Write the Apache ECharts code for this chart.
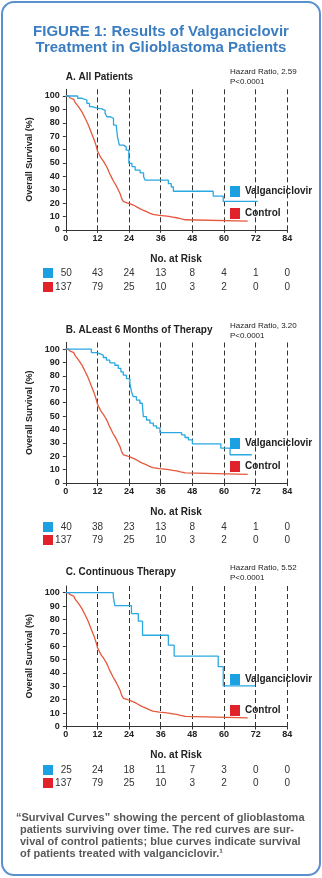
<!DOCTYPE html>
<html>
<head>
<meta charset="utf-8">
<script src="https://cdn.jsdelivr.net/npm/echarts@6/dist/echarts.min.js"></script>
<style>
  html, body { margin: 0; padding: 0; background: #fff; }
  #chart { width: 322px; height: 878px; }
</style>
</head>
<body>
<div id="chart"></div>
<script>
// Axis ticks
const monthTicks = [0, 12, 24, 36, 48, 60, 72, 84];
const survivalTicks = [0, 10, 20, 30, 40, 50, 60, 70, 80, 90, 100];

// Kaplan-Meier curves: event month and survival (%) after that event
const controlMonths = [0, 1.0, 1.7, 2.4, 3.0, 3.6, 4.2, 4.8, 5.3, 5.8, 6.3, 6.8, 7.3, 7.8, 8.3, 8.8, 9.3, 9.8, 10.3, 10.8,
  11.3, 11.7, 12.0, 12.5, 13.0, 13.6, 14.2, 14.8, 15.4, 15.9, 16.4, 16.9, 17.4, 17.9, 18.5, 19.1, 19.6, 20.1, 20.6, 21.0,
  21.4, 21.9, 22.6, 23.5, 24.5, 25.4, 26.3, 27.2, 28.1, 29.0, 30.0, 31.0, 32.0, 33.0, 35.5, 37.5, 39.0, 40.5, 42.0, 43.5,
  45.3, 69.0];
const controlSurvival = [100, 99.3, 98.5, 97.5, 96.5, 95, 93.5, 92, 90.5, 89, 87.5, 85.5, 83.5, 81.5, 79.5, 77, 74.5, 72, 69.5, 67,
  64, 61.5, 59, 57, 55, 53, 51.5, 49.5, 47.5, 45.5, 43, 41, 39, 37, 35, 33, 31, 29, 27, 24.5,
  22.5, 21, 20, 19.3, 18.6, 17.8, 16.8, 15.8, 14.9, 14.1, 13.2, 12.3, 11.5, 10.8, 10.4, 10, 9.5, 9.0, 8.3, 7.5,
  6.5, 6.5];

const allPatientsMonths = [0, 4.5, 6.1, 8.0, 9.0, 10.0, 11.8, 13.7, 14.9, 15.6, 16.9, 18.1, 19.1, 19.6, 20.3, 21.9, 22.9, 23.9,
  25.1, 26.3, 28.2, 29.5, 30.1, 38.9, 40.0, 40.8, 55.9, 59.7, 72.8];
const allPatientsSurvival = [100, 98.3, 97, 94.5, 92, 91, 90.3, 89.3, 87, 84.5, 83.3, 78.3, 77, 69.5, 63.3, 62, 59.5, 49.7,
  47.2, 44.6, 42.6, 39.6, 37.1, 34.5, 32, 28.8, 25.1, 21.3, 21.3];

const sixMonthsMonths = [0, 9.7, 11.6, 13.3, 14.2, 15.4, 16.7, 18.6, 19.9, 20.9, 21.8, 23.0, 24.3, 24.9, 25.6, 26.8, 28.1, 29.0,
  29.4, 30.6, 31.9, 33.2, 34.4, 35.7, 43.9, 45.2, 46.5, 48.0, 58.8, 62.3, 70.5];
const sixMonthsSurvival = [100, 97.5, 96.3, 95.5, 93.8, 91.8, 89.8, 88, 85.6, 83, 80.6, 78, 74.4, 68.2, 64.5, 62, 59.6, 58.3,
  49.6, 47.1, 44.7, 42.7, 41, 37.7, 36, 34, 32.3, 29.3, 26, 21.1, 21.1];

const continuousMonths = [0, 18.0, 18.6, 24.9, 27.5, 29.1, 38.9, 41.1, 57.8, 59.7, 71.8];
const continuousSurvival = [100, 97, 90.3, 84.4, 78.7, 68.2, 60.8, 52.6, 44.7, 30.3, 30.3];

// Number at risk, by month tick
const riskAllValgan = [50, 43, 24, 13, 8, 4, 1, 0];
const riskAllControl = [137, 79, 25, 10, 3, 2, 0, 0];
const riskSixValgan = [40, 38, 23, 13, 8, 4, 1, 0];
const riskSixControl = [137, 79, 25, 10, 3, 2, 0, 0];
const riskContValgan = [25, 24, 18, 11, 7, 3, 0, 0];
const riskContControl = [137, 79, 25, 10, 3, 2, 0, 0];

// Text
const figureTitle = ['FIGURE 1: Results of Valganciclovir', 'Treatment in Glioblastoma Patients'];
const panelTitles = ['A. All Patients', 'B. ALeast 6 Months of Therapy', 'C. Continuous Therapy'];
const hazardRatios = ['2.59', '3.20', '5.52'];
const pValue = 'P<0.0001';
const seriesNames = ['Valganciclovir', 'Control'];
const yAxisName = 'Overall Survival (%)';
const riskHeading = 'No. at Risk';
const captionLines = [
  '\u201CSurvival Curves\u201D showing the percent of glioblastoma',
  'patients surviving over time. The red curves are sur-',
  'vival of control patients; blue curves indicate survival',
  'of patients treated with valganciclovir.\u00B9'
];

const panels = [
  { months: allPatientsMonths, survival: allPatientsSurvival, risk: [riskAllValgan, riskAllControl] },
  { months: sixMonthsMonths, survival: sixMonthsSurvival, risk: [riskSixValgan, riskSixControl] },
  { months: continuousMonths, survival: continuousSurvival, risk: [riskContValgan, riskContControl] }
];

// Page layout
const FONT = "'Liberation Sans', Arial, Helvetica, sans-serif";
const BLUE = '#1ba1e2', BLUE_LINE = '#2aa8e2';
const RED = '#e2222a', RED_LINE = '#e5583c';
const INK = '#222';
const layout = [
  { gridTop: 89.3, titleY: 77, hazardY: 72, legendTop: 186, legendGap: 11, riskHeadY: 259, riskRowY: [273, 287] },
  { gridTop: 342.5, titleY: 330, hazardY: 326, legendTop: 438, legendGap: 12, riskHeadY: 512, riskRowY: [527, 540] },
  { gridTop: 586, titleY: 572, hazardY: 568, legendTop: 674, legendGap: 20, riskHeadY: 755, riskRowY: [770, 783] }
];
const GRID_LEFT = 65.8, GRID_WIDTH = 221.5, GRID_HEIGHT = 140.5;

const zip = (xs, ys) => xs.map((x, i) => [x, ys[i]]);

const grids = [], xAxes = [], yAxes = [], series = [], legends = [];
layout.forEach((L, i) => {
  grids.push({ left: GRID_LEFT, top: L.gridTop, width: GRID_WIDTH, height: GRID_HEIGHT, containLabel: false });
  xAxes.push({
    type: 'value', gridIndex: i, min: 0, max: 84, interval: 12,
    axisLine: { show: true, lineStyle: { color: '#333', width: 1 } },
    axisTick: { show: true, length: 3, lineStyle: { color: '#333' } },
    axisLabel: { margin: 4, color: INK, fontFamily: FONT, fontWeight: 'bold', fontSize: 9 },
    splitLine: { show: true, lineStyle: { color: '#333', width: 1, type: [5, 3] } }
  });
  yAxes.push({
    type: 'value', gridIndex: i, min: 0, max: 105,
    name: yAxisName, nameLocation: 'middle', nameGap: 25,
    nameTextStyle: { color: INK, fontFamily: FONT, fontWeight: 'bold', fontSize: 9 },
    axisLine: { show: true, lineStyle: { color: '#333', width: 1 } },
    axisTick: { show: true, length: 3, customValues: survivalTicks, lineStyle: { color: '#333' } },
    axisLabel: { margin: 6, customValues: survivalTicks, color: INK, fontFamily: FONT, fontWeight: 'bold', fontSize: 9 },
    splitLine: { show: false }
  });
  series.push({
    name: seriesNames[1], type: 'line', step: 'end', xAxisIndex: i, yAxisIndex: i,
    symbol: 'none', data: zip(controlMonths, controlSurvival),
    itemStyle: { color: RED }, lineStyle: { color: RED_LINE, width: 1.3 }, z: 3
  });
  series.push({
    name: seriesNames[0], type: 'line', step: 'end', xAxisIndex: i, yAxisIndex: i,
    symbol: 'none', data: zip(panels[i].months, panels[i].survival),
    itemStyle: { color: BLUE }, lineStyle: { color: BLUE_LINE, width: 1.3 }, z: 4
  });
  legends.push({
    data: seriesNames, orient: 'vertical', left: 230, top: L.legendTop, padding: 0,
    itemWidth: 10, itemHeight: 11, itemGap: L.legendGap, icon: 'rect', selectedMode: false,
    textStyle: { color: INK, fontFamily: FONT, fontWeight: 'bold', fontSize: 10 }
  });
});

const chart = echarts.init(document.getElementById('chart'), null, { renderer: 'canvas' });
chart.setOption({
  animation: false,
  backgroundColor: '#fff',
  grid: grids, xAxis: xAxes, yAxis: yAxes, series: series, legend: legends
});

// Text and table elements, placed along each panel's month axis
function text(x, y, str, font, fill, align, vAlign, extra) {
  return {
    type: 'text', x: x, y: y, silent: true,
    style: Object.assign({ text: str, font: font, fill: fill,
      align: align, verticalAlign: vAlign, textAlign: align, textVerticalAlign: vAlign }, extra || {})
  };
}

const graphics = [];
graphics.push({
  type: 'rect', silent: true, z: -10,
  shape: { x: 2, y: 2, width: 318, height: 873, r: 12 },
  style: { fill: 'none', stroke: '#5b90cf', lineWidth: 2 }
});
figureTitle.forEach((line, k) => {
  graphics.push(text(161, 32 + k * 16, line, 'bold 15px ' + FONT, '#3b7dc1', 'center', 'middle'));
});
layout.forEach((L, i) => {
  graphics.push(text(GRID_LEFT, L.titleY, panelTitles[i], 'bold 10px ' + FONT, INK, 'left', 'middle'));
  graphics.push(text(230, L.hazardY - 4.5, 'Hazard Ratio, ' + hazardRatios[i] + '\n' + pValue,
    "8px 'Liberation Sans Narrow', " + FONT, INK, 'left', 'top', { lineHeight: 9.5 }));
  const x0 = chart.convertToPixel({ xAxisIndex: i }, 0);
  const x84 = chart.convertToPixel({ xAxisIndex: i }, 84);
  graphics.push(text((x0 + x84) / 2 - 0.5, L.riskHeadY, riskHeading, 'bold 10px ' + FONT, INK, 'center', 'middle'));
  [BLUE, RED].forEach((col, r) => {
    const y = L.riskRowY[r];
    graphics.push({ type: 'rect', silent: true, shape: { x: 43, y: y - 5, width: 10, height: 10 }, style: { fill: col } });
    panels[i].risk[r].forEach((n, k) => {
      const x = chart.convertToPixel({ xAxisIndex: i }, monthTicks[k]);
      if (k === 0) {
        graphics.push(text(x + 6, y, String(n), '10px ' + FONT, '#333', 'right', 'middle'));
      } else {
        graphics.push(text(x, y, String(n), '10px ' + FONT, '#333', 'center', 'middle'));
      }
    });
  });
});
captionLines.forEach((line, k) => {
  graphics.push(text(k === 0 ? 16 : 20, 818 + k * 12, line, 'bold 11px ' + FONT, '#58595b', 'left', 'middle'));
});

chart.setOption({ graphic: graphics });
</script>
</body>
</html>
